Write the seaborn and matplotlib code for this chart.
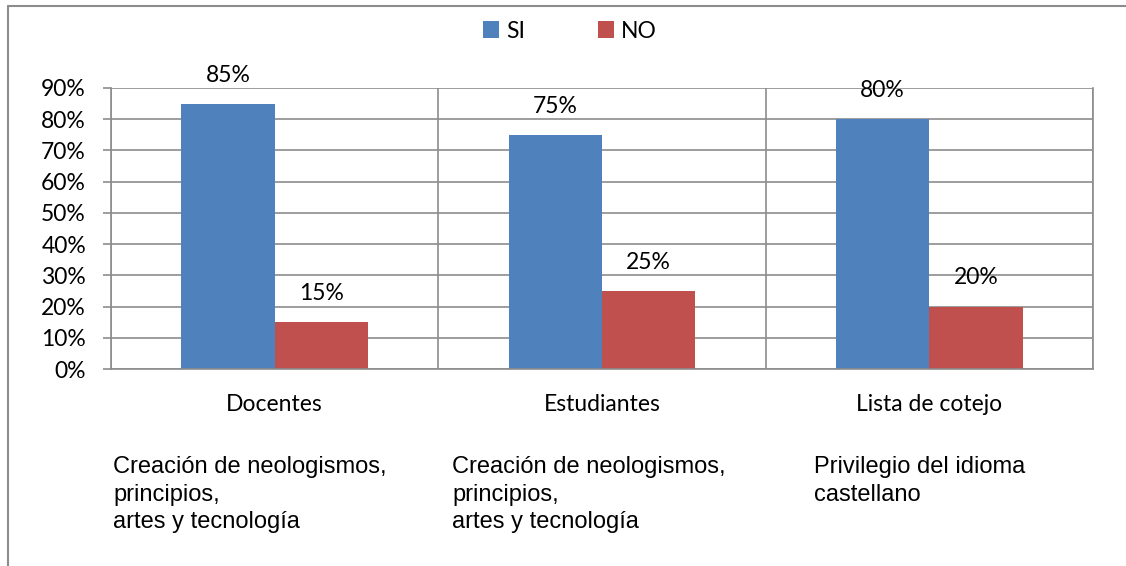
import numpy as np
import pandas as pd
import seaborn as sns
import matplotlib.pyplot as plt
from matplotlib.lines import Line2D

categories = ["Docentes", "Estudiantes", "Lista de cotejo"]
series = ["SI", "NO"]
si_values = [85, 75, 80]
no_values = [15, 25, 20]
sub_labels = ["Creación de neologismos,\nprincipios,\nartes y tecnología",
              "Creación de neologismos,\nprincipios,\nartes y tecnología",
              "Privilegio del idioma\ncastellano"]
yticks = [0, 10, 20, 30, 40, 50, 60, 70, 80, 90]

sns.set_theme(style="white")
plt.rcParams['font.family'] = ['Lato', 'DejaVu Sans']
plt.rcParams['text.color'] = 'black'
plt.rcParams['xtick.color'] = 'black'
plt.rcParams['ytick.color'] = 'black'

df = pd.DataFrame({
    "cat": categories * 2,
    "serie": ["SI"] * 3 + ["NO"] * 3,
    "val": si_values + no_values,
})

grid_col = "#8c8c8c"
fs = 16.5
fig = plt.figure(figsize=(11.26, 5.66), dpi=100)
ax = fig.add_axes([111 / 1126, 1 - 369 / 566, (1093 - 111) / 1126, (369 - 88) / 566])

sns.barplot(data=df, x="cat", y="val", hue="serie", order=categories, hue_order=series,
            palette=["#4F81BD", "#C0504D"], width=0.57, gap=0, saturation=1,
            errorbar=None, linewidth=0, ax=ax)

for c in ax.containers:
    ax.bar_label(c, labels=[f"{v:.0f}%" for v in c.datavalues], padding=13, fontsize=fs)

ax.set_ylim(0, 90)
ax.set_xlim(-0.5, 2.5)
ax.set_yticks(yticks)
ax.set_yticklabels([f"{t}%" for t in yticks], fontsize=fs)
ax.set_xticks(range(3))
ax.set_xticklabels(categories, fontsize=fs)
ax.set_xticks([-0.5, 0.5, 1.5, 2.5], minor=True)
ax.tick_params(axis="x", which="major", length=0, pad=18)
ax.tick_params(axis="x", which="minor", length=6, color=grid_col, width=1.2, direction="out")
ax.tick_params(axis="y", length=6, color=grid_col, width=1.2, direction="out", pad=12, left=True)
ax.set_xlabel("")
ax.set_ylabel("")

ax.yaxis.grid(True, color=grid_col, lw=1.2)
ax.xaxis.grid(True, which="minor", color=grid_col, lw=1.2)
ax.set_axisbelow(True)
for s in ["left", "bottom", "right"]:
    ax.spines[s].set_color(grid_col)
    ax.spines[s].set_linewidth(1.2)
ax.spines["top"].set_visible(False)

handles, labels = ax.get_legend_handles_labels()
ax.legend(handles, labels, loc="center", bbox_to_anchor=(570 / 1126, 1 - 31 / 566),
          bbox_transform=fig.transFigure, ncol=2, frameon=False, fontsize=fs,
          handlelength=0.7, handleheight=0.7, handletextpad=0.3, columnspacing=3.2)

xs = [113, 452, 814]
for x, t in zip(xs, sub_labels):
    fig.text(x / 1126, 1 - 456 / 566, t, ha="left", va="top", fontsize=17,
             family="Liberation Sans", color="black", linespacing=1.33)

# outer chart frame (partially cropped in the original)
fig.add_artist(Line2D([8 / 1126, 1.0], [1 - 6 / 566, 1 - 6 / 566], color=grid_col, lw=1.5))
fig.add_artist(Line2D([8 / 1126, 8 / 1126], [0, 1 - 6 / 566], color=grid_col, lw=1.5))

fig.savefig("out.png", dpi=100)
